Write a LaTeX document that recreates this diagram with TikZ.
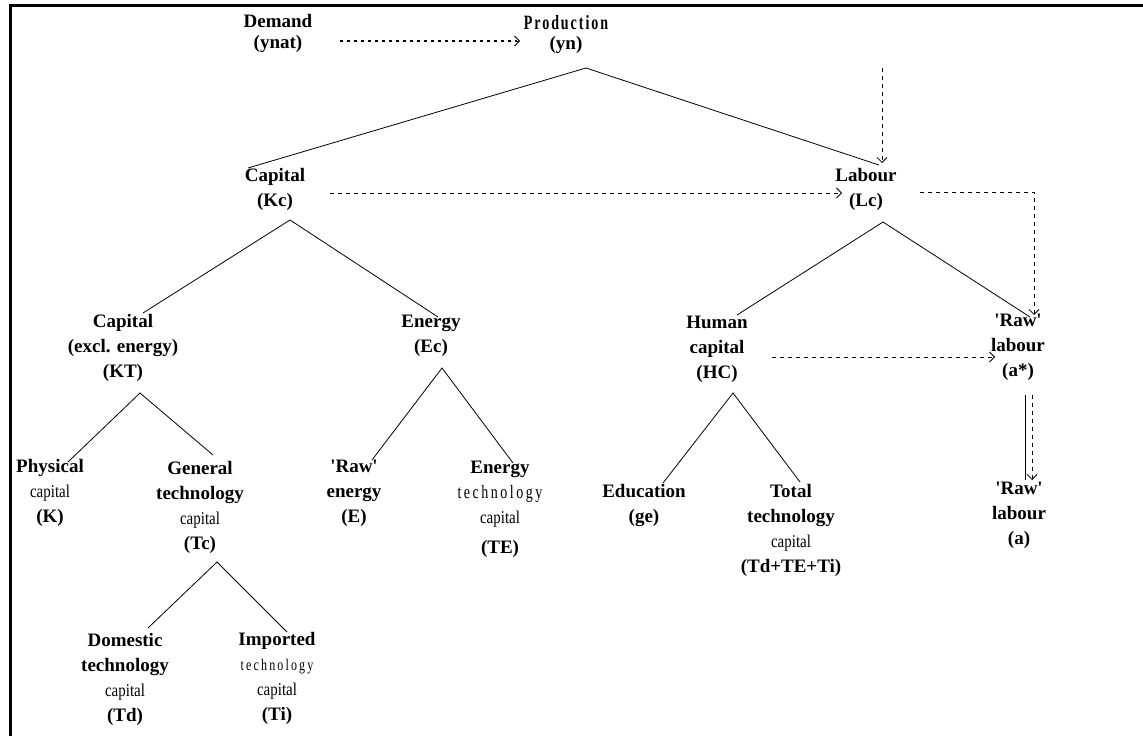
\documentclass[tikz,border=0pt]{standalone}
\usepackage{fontspec}
\usepackage{graphicx}
\setmainfont{Liberation Serif}
\newfontfamily\spA[LetterSpace=14]{Liberation Serif}
\newfontfamily\spB[LetterSpace=18]{Liberation Serif}
\usetikzlibrary{arrows.meta}
\newcommand{\smcap}[1]{\scalebox{1}[1.2]{\fontsize{15}{25}\selectfont\mdseries #1}}
\newcommand{\spcw}[2]{\scalebox{1}[1.35]{\spB\fontsize{#1}{25}\selectfont\mdseries #2}}
\newcommand{\sq}{\textquotesingle}
\begin{document}
\begin{tikzpicture}[x=1pt,y=-1pt,
  lbl/.style={align=center,inner sep=0pt,font=\fontsize{19}{25}\selectfont\bfseries},
  tree/.style={line width=0.8pt},
  flow/.style={line width=0.8pt,dash pattern=on 4pt off 4pt,-{Straight Barb[length=5pt,width=10pt]}}]
\useasboundingbox (0,0) rectangle (1143,736);
\draw[line width=3pt] (10.5,736) -- (10.5,5.5) -- (1143,5.5);

% labels
\node[lbl] (Dem) at (278,33) {Demand\\[-4pt](ynat)};
\node[lbl] (Prod) at (566,35) {\scalebox{1}[1.45]{\spA\fontsize{14}{25}\selectfont\bfseries Production}\\[-5pt](yn)};
\node[lbl] (Kc) at (275,189) {Capital\\(Kc)};
\node[lbl] (Lc) at (866,189) {Labour\\(Lc)};
\node[lbl] (KT) at (123,348) {Capital\\(excl. energy)\\(KT)};
\node[lbl] (Ec) at (431,336) {Energy\\(Ec)};
\node[lbl] (HC) at (717,349) {Human\\capital\\(HC)};
\node[lbl] (as) at (1018,347) {\sq Raw\sq\\labour\\(a*)};
\node[lbl] (Phys) at (50,493) {Physical\\\smcap{capital}\\(K)};
\node[lbl] (Gen) at (200,507) {General\\technology\\\smcap{capital}\\(Tc)};
\node[lbl] (RE) at (354,493) {\sq Raw\sq\\energy\\(E)};
\node[lbl] (ET) at (500,509) {Energy\\\spcw{14}{technology}\\\smcap{capital}\\[5pt](TE)};
\node[lbl] (Edu) at (644,505) {Education\\(ge)};
\node[lbl] (Tot) at (791,530) {Total\\technology\\\smcap{capital}\\(Td+TE+Ti)};
\node[lbl] (ra) at (1019,515) {\sq Raw\sq\\labour\\(a)};
\node[lbl] (Dom) at (125,679) {Domestic\\technology\\\smcap{capital}\\(Td)};
\node[lbl] (Imp) at (277,678) {Imported\\\spcw{12}{technology}\\\smcap{capital}\\(Ti)};

% tree coordinates
\coordinate (ProdA) at (586,68);
\coordinate (KcT) at (248,168);
\coordinate (LcT) at (879,165);
\coordinate (KcA) at (290,220);
\coordinate (KTT) at (143,313);
\coordinate (EcT) at (438,317);
\coordinate (LcA) at (883,222);
\coordinate (HCT) at (737,315);
\coordinate (asT) at (1030,317);
\coordinate (KTA) at (140,393);
\coordinate (PhysT) at (68,462);
\coordinate (GenT) at (213,455);
\coordinate (EcA) at (442,368);
\coordinate (RET) at (372,460);
\coordinate (ETT) at (513,463);
\coordinate (HCA) at (733,393);
\coordinate (EduT) at (663,483);
\coordinate (TotT) at (800,482);
\coordinate (TcA) at (217,562);
\coordinate (DomT) at (148,628);
\coordinate (ImpT) at (287,632);
\coordinate (asB) at (1025,395);
\coordinate (raT) at (1025,480);

\draw[tree] (KcT) -- (ProdA) -- (LcT);
\draw[tree] (KTT) -- (KcA) -- (EcT);
\draw[tree] (HCT) -- (LcA) -- (asT);
\draw[tree] (PhysT) -- (KTA) -- (GenT);
\draw[tree] (RET) -- (EcA) -- (ETT);
\draw[tree] (EduT) -- (HCA) -- (TotT);
\draw[tree] (DomT) -- (TcA) -- (ImpT);
\draw[tree] (asB) -- (raT);

% flow coordinates
\coordinate (DemE) at (340,41);
\coordinate (ProdW) at (520,41);
\coordinate (LcIn0) at (882,68);
\coordinate (LcIn) at (882,163);
\coordinate (KcE) at (330,193);
\coordinate (LcW) at (842,193);
\coordinate (LcE) at (920,192);
\coordinate (LcCorner) at (1034,192);
\coordinate (asIn) at (1034,315);
\coordinate (HCE) at (772,357);
\coordinate (asW) at (995,357);
\coordinate (asB2) at (1032,395);
\coordinate (raT2) at (1032,480);

\draw[line width=1.6pt,dash pattern=on 3pt off 4pt] (DemE) -- ([xshift=-3pt]ProdW);
\draw[line width=0.8pt,-{Straight Barb[length=5pt,width=10pt]}] ([xshift=-4pt]ProdW) -- (ProdW);
\draw[flow] (LcIn0) -- (LcIn);
\draw[flow] (KcE) -- (LcW);
\draw[flow] (LcE) -- (LcCorner) -- (asIn);
\draw[flow] (HCE) -- (asW);
\draw[flow] (asB2) -- (raT2);
\end{tikzpicture}
\end{document}
